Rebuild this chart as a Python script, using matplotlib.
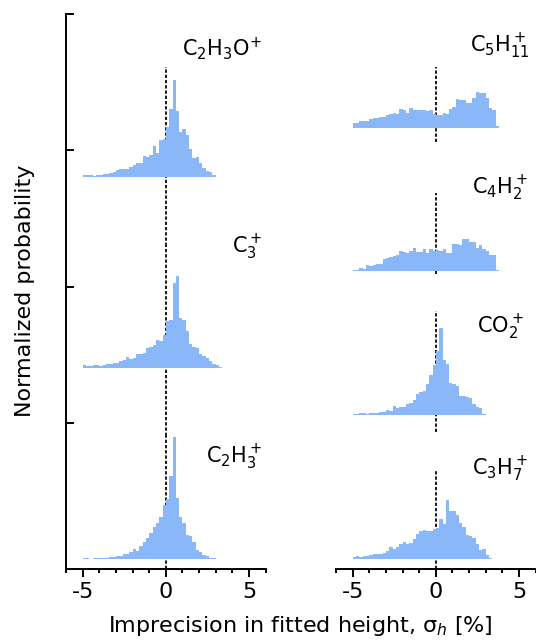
import numpy as np
import matplotlib
matplotlib.use("Agg")
import matplotlib.pyplot as plt

plt.rcParams['font.family'] = ['DejaVu Sans']
plt.rcParams['mathtext.fontset'] = 'dejavusans'

# histogram heights per 0.2 %-wide bin, starting at -5 %
bin_start = -5.0
bin_width = 0.2
norm = 409.0  # raw height units per probability unit

c2h3o = [6, 6, 6, 3, 6, 6, 9, 9, 11, 14, 19, 23, 23, 23, 29, 35, 41, 41, 62, 59,
         65, 92, 71, 110, 113, 149, 203, 290, 197, 134, 143, 125, 83, 56, 59, 41,
         26, 17, 14, 6]
c3 = [8, 5, 5, 8, 8, 5, 8, 11, 11, 14, 14, 20, 24, 32, 27, 29, 42, 42, 44, 59,
      62, 68, 83, 81, 98, 141, 144, 254, 276, 149, 144, 111, 72, 62, 59, 41, 35,
      29, 21, 12, 8, 2]
c2h3 = [2, 2, 0, 2, 2, 4, 4, 2, 6, 6, 9, 9, 15, 15, 21, 30, 25, 40, 52, 64,
        79, 97, 109, 127, 163, 181, 250, 367, 184, 127, 109, 73, 70, 52, 28, 22,
        13, 10, 2, 2]
c5h11 = [15, 15, 22, 22, 22, 28, 30, 30, 34, 34, 39, 42, 45, 42, 58, 54, 47, 60,
         55, 55, 55, 55, 52, 56, 43, 41, 41, 46, 43, 57, 64, 88, 84, 85, 75, 77,
         90, 109, 107, 105, 90, 62, 55, 8]
c4h2 = [3, 3, 9, 7, 18, 15, 18, 21, 21, 36, 39, 42, 45, 48, 60, 58, 54, 61, 69,
        57, 58, 66, 55, 66, 61, 63, 61, 65, 55, 54, 81, 81, 79, 96, 96, 88, 88,
        68, 78, 66, 61, 48, 48, 3]
co2 = [3, 1, 6, 4, 3, 6, 6, 6, 9, 9, 15, 12, 27, 21, 24, 24, 33, 36, 45, 63,
       69, 72, 93, 120, 150, 191, 261, 165, 153, 96, 93, 87, 57, 57, 54, 51, 33,
       24, 21, 3]
c3h7 = [5, 8, 5, 10, 8, 11, 14, 16, 14, 17, 23, 35, 29, 37, 46, 50, 44, 47, 59,
        74, 83, 86, 83, 83, 89, 92, 119, 104, 176, 143, 143, 131, 107, 95, 71, 68,
        62, 44, 26, 29, 11, 2]

left_labels = [r'$\mathrm{C_2H_3^+}$', r'$\mathrm{C_3^+}$', r'$\mathrm{C_2H_3O^{\!+}}$']
left_series = [c2h3, c3, c2h3o]
left_offsets = [0.0, 1.403, 2.807]
left_lines = [(-0.073, 0.9), (0.9, 2.3), (2.3, 3.61)]
left_label_y = [0.75, 2.29, 3.75]

right_labels = [r'$\mathrm{C_3H_7^+}$', r'$\mathrm{CO_2^+}$',
                r'$\mathrm{C_4H_2^+}$', r'$\mathrm{C_5H_{11}^+}$']
right_series = [c3h7, co2, c4h2, c5h11]
right_offsets = [0.0, 1.059, 2.115, 3.162]
right_lines = [(-0.073, 0.655), (0.936, 1.817), (2.09, 2.69), (3.06, 3.61)]
right_label_y = [0.66, 1.70, 2.72, 3.76]

bar_color = '#89b7f8'
W, H = 536, 641

fig = plt.figure(figsize=(W / 100, H / 100), dpi=100)
ax_l = fig.add_axes([66 / W, (H - 569) / H, 199.7 / W, 555 / H])
ax_r = fig.add_axes([336 / W, (H - 569) / H, 199.7 / W, 555 / H])


def draw_panel(ax, series, offsets, lines):
    for h, off, (y0, y1) in zip(series, offsets, lines):
        h = np.asarray(h, dtype=float) / norm
        edges = bin_start + bin_width * np.arange(len(h) + 1)
        ax.plot([0, 0], [y0, y1], color='#1a1a1a', lw=1.4,
                dashes=(1.7, 1.0), zorder=1)
        ax.stairs(h + off, edges, baseline=off, fill=True,
                  color=bar_color, linewidth=0, zorder=2)
    ax.set_xlim(-6, 6)
    ax.set_ylim(-0.073, 4)
    ax.set_xticks([-5, 0, 5])
    ax.set_xticklabels(['-5', '0', '5'])
    ax.set_xticks(np.arange(-6, 7, 1), minor=True)
    ax.tick_params(axis='x', which='major', direction='out', length=6,
                   width=1.4, labelsize=16, pad=3)
    ax.tick_params(axis='x', which='minor', direction='out', length=3,
                   width=1.4)
    for side in ('top', 'right'):
        ax.spines[side].set_visible(False)
    ax.spines['bottom'].set_linewidth(1.4)
    ax.spines['left'].set_linewidth(1.4)


draw_panel(ax_l, left_series, left_offsets, left_lines)
draw_panel(ax_r, right_series, right_offsets, right_lines)

ax_l.set_yticks([1, 2, 3, 4])
ax_l.tick_params(axis='y', direction='in', length=6, width=1.4,
                 labelleft=False)
ax_r.spines['left'].set_visible(False)
ax_r.set_yticks([])

for lab, y in zip(left_labels, left_label_y):
    ax_l.text(5.78, y, lab, ha='right', va='center', fontsize=15)
for lab, y in zip(right_labels, right_label_y):
    ax_r.text(3.86, y, lab, ha='center', va='center', fontsize=15)

fig.text(300 / W, 1 - 626 / H, r'Imprecision in fitted height, σ$_h$ [%]',
         ha='center', va='center', fontsize=16)
fig.text(25 / W, 1 - 291 / H, 'Normalized probability', rotation=90,
         ha='center', va='center', fontsize=16)

fig.savefig('out.png', dpi=100)
